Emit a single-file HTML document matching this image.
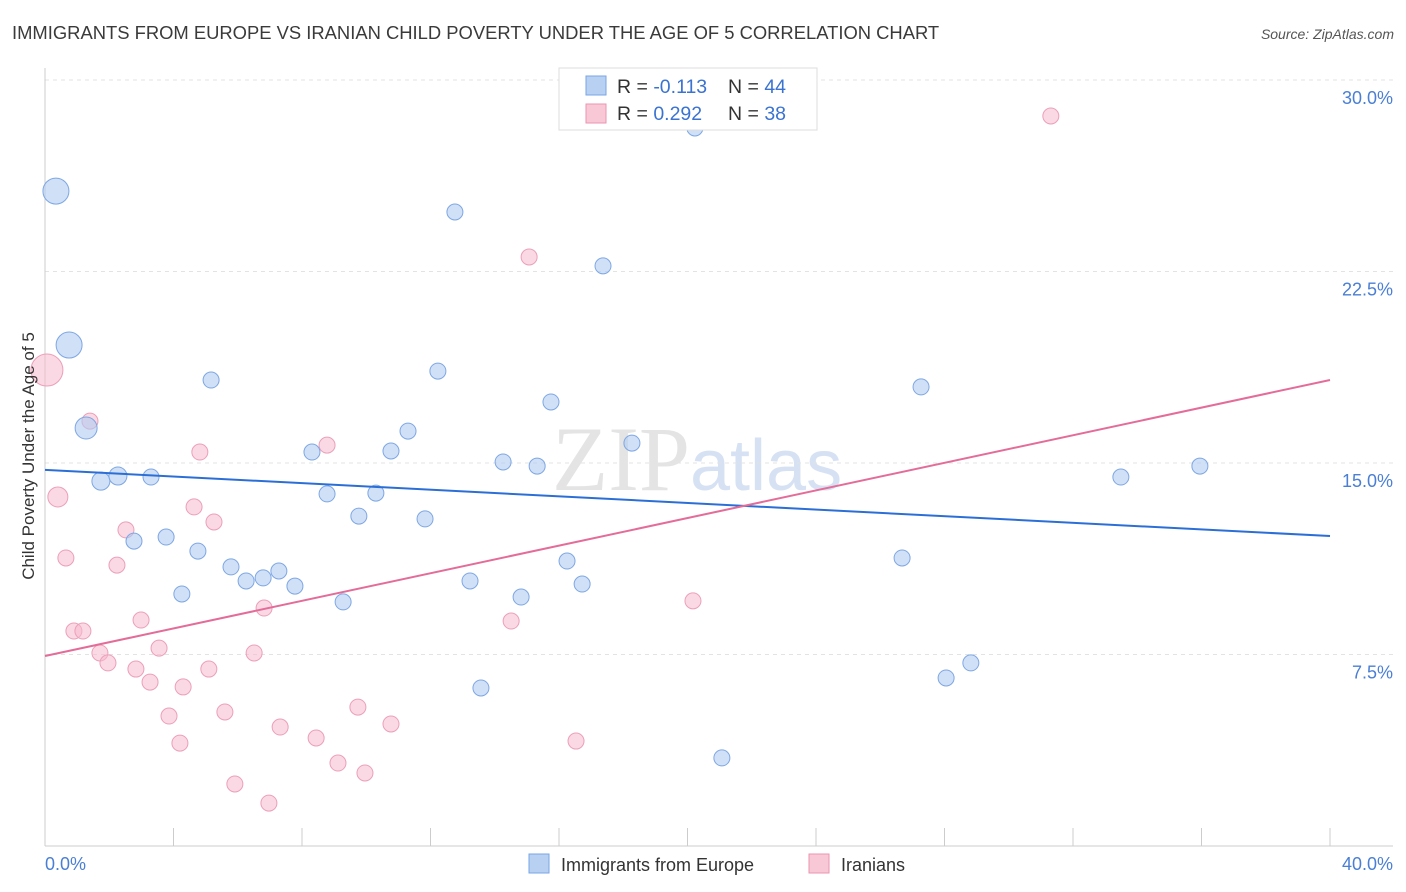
<!DOCTYPE html>
<html><head><meta charset="utf-8"><style>
body{margin:0;background:#fff;font-family:"Liberation Sans",sans-serif;}
svg{display:block}
</style></head><body>
<svg id="chart" width="1406" height="892">
<text x="12" y="39" font-size="18.4" fill="#3a3a3a">IMMIGRANTS FROM EUROPE VS IRANIAN CHILD POVERTY UNDER THE AGE OF 5 CORRELATION CHART</text>
<text x="1394" y="39" font-size="14" fill="#555" font-style="italic" text-anchor="end">Source: ZipAtlas.com</text>
<text x="690" y="490" font-size="92" fill="#e4e4e4" text-anchor="end" font-family="Liberation Serif,serif">ZIP</text>
<text x="690" y="490" font-size="72" fill="#d6e2f3">atlas</text>
<g id="grid"></g>
<g id="axes"></g>
<g id="marks"></g>
<text transform="translate(34,456) rotate(-90)" font-size="17" fill="#333" text-anchor="middle">Child Poverty Under the Age of 5</text>
<g>
<rect x="559" y="68" width="258" height="62" fill="#fff" stroke="#ddd"/>
<rect x="586" y="76" width="20" height="19" fill="#b8d1f3" stroke="#7aa5e6"/>
<rect x="586" y="104" width="20" height="19" fill="#f9c8d6" stroke="#eb96b0"/>
<text x="617" y="93" font-size="19.5" fill="#333">R = <tspan fill="#3b73d1">-0.113</tspan><tspan x="728">N = </tspan><tspan fill="#3b73d1">44</tspan></text>
<text x="617" y="120" font-size="19.5" fill="#333">R = <tspan fill="#3b73d1"> 0.292</tspan><tspan x="728">N = </tspan><tspan fill="#3b73d1">38</tspan></text>
</g>
<g>
<rect x="529" y="854" width="20" height="19" fill="#b8d1f3" stroke="#7aa5e6"/>
<text x="561" y="871" font-size="18" fill="#333">Immigrants from Europe</text>
<rect x="809" y="854" width="20" height="19" fill="#f9c8d6" stroke="#eb96b0"/>
<text x="841" y="871" font-size="18" fill="#333">Iranians</text>
</g>
</svg>
<script>
const yTicks=[7.5,15,22.5,30];
const yTickLabels=["7.5%","15.0%","22.5%","30.0%"];
const xTicks=[0,4,8,12,16,20,24,28,32,36,40];
const blueX=[0.34,0.75,1.28,1.74,2.27,3.30,2.77,3.77,4.26,4.76,5.17,5.79,6.26,6.79,7.28,7.78,8.31,8.78,9.28,9.77,10.30,10.77,11.30,11.83,12.23,12.76,13.23,13.57,14.26,14.82,15.32,15.75,16.25,16.72,17.37,18.27,20.23,21.07,26.68,27.27,28.05,28.82,33.49,35.95];
const blueY=[25.65,19.62,16.37,14.29,14.49,14.45,11.94,12.10,9.87,11.55,18.25,10.93,10.38,10.50,10.77,10.18,15.43,13.79,9.56,12.92,13.82,15.47,16.25,12.81,18.60,24.83,10.38,6.19,15.04,9.75,14.88,17.39,11.16,10.26,22.72,15.78,28.12,3.45,11.28,17.98,6.58,7.17,14.45,14.88];
const blueSize=[13,13,11,9,9,8,8,8,8,8,8,8,8,8,8,8,8,8,8,8,8,8,8,8,8,8,8,8,8,8,8,8,8,8,8,8,8,8,8,8,8,8,8,8];
const pinkX=[0.06,0.40,0.65,0.90,1.18,1.40,1.71,1.96,2.24,2.52,2.83,2.99,3.27,3.55,3.86,4.20,4.30,4.64,4.82,5.10,5.26,5.60,5.91,6.51,6.82,6.97,7.32,8.44,8.78,9.12,9.74,9.96,10.77,14.51,15.07,16.53,20.17,31.31];
const pinkY=[18.64,13.67,11.28,8.42,8.42,16.64,7.56,7.17,11.00,12.38,6.93,8.85,6.42,7.75,5.09,4.03,6.23,13.28,15.43,6.93,12.69,5.25,2.43,7.56,9.32,1.68,4.66,4.23,15.70,3.25,5.44,2.86,4.78,8.81,23.07,4.11,9.60,28.59];
const pinkSize=[16,10,8,8,8,8,8,8,8,8,8,8,8,8,8,8,8,8,8,8,8,8,8,8,8,8,8,8,8,8,8,8,8,8,8,8,8,8];
const blueTrend=[14.73,12.14];
const pinkTrend=[7.44,18.25];
const NS="http://www.w3.org/2000/svg";
const X=v=>45+v/40*1285;
const Y=v=>846-v/30*766;
function mk(tag,attrs,parent){const e=document.createElementNS(NS,tag);for(const k in attrs)e.setAttribute(k,attrs[k]);document.getElementById(parent).appendChild(e);return e;}
yTicks.forEach((t,i)=>{
 const g=mk('line',{x1:45,x2:1393,y1:Y(t),y2:Y(t),stroke:'#e3e3e3','stroke-dasharray':'4,4'},'grid');
 
 
 const l=mk('text',{x:1393,y:Y(t)+24,'font-size':18,fill:'#4a7fd4','text-anchor':'end'},'axes');
 l.textContent=yTickLabels[i];
 
 
});
const ya=mk('line',{x1:45,x2:45,y1:68,y2:846,stroke:'#ccc'},'axes');


const xa=mk('line',{x1:45,x2:1393,y1:846,y2:846,stroke:'#ccc'},'axes');


xTicks.forEach(t=>{
 const tk=mk('line',{x1:X(t),x2:X(t),y1:828,y2:846,stroke:'#ccc'},'axes');
 
 
});
const xl0=mk('text',{x:45,y:870,'font-size':18,fill:'#4a7fd4'},'axes');xl0.textContent='0.0%';


const xl1=mk('text',{x:1393,y:870,'font-size':18,fill:'#4a7fd4','text-anchor':'end'},'axes');xl1.textContent='40.0%';


pinkX.forEach((v,i)=>{
 const c=mk('circle',{cx:X(v),cy:Y(pinkY[i]),r:pinkSize[i],fill:'rgba(247,185,205,0.55)',stroke:'#eba0b8','stroke-width':1},'marks');
 
 
});
blueX.forEach((v,i)=>{
 const c=mk('circle',{cx:X(v),cy:Y(blueY[i]),r:blueSize[i],fill:'rgba(177,204,242,0.6)',stroke:'#7ea7e3','stroke-width':1},'marks');
 
 
});
const bt=mk('line',{x1:X(0),y1:Y(blueTrend[0]),x2:X(40),y2:Y(blueTrend[1]),stroke:'#2b6fd6','stroke-width':2},'marks');


const pt=mk('line',{x1:X(0),y1:Y(pinkTrend[0]),x2:X(40),y2:Y(pinkTrend[1]),stroke:'#e46c98','stroke-width':2},'marks');


</script>
</body></html>
